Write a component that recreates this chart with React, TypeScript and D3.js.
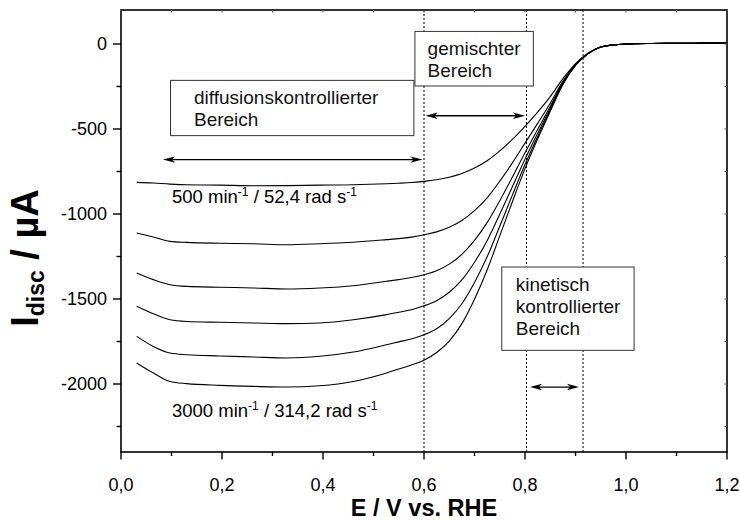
import React from "react";
import * as d3 from "d3";

// ---- data ----
const potentials = [0.031, 0.064, 0.097, 0.13, 0.196, 0.262, 0.328, 0.394, 0.46, 0.526, 0.55, 0.575, 0.6, 0.625, 0.65, 0.675, 0.7, 0.725, 0.75, 0.775, 0.8, 0.825, 0.85, 0.875, 0.9, 0.925, 0.95, 0.975, 1.0, 1.05, 1.1, 1.15, 1.2];
const rpm500 = [-814, -818, -824, -828, -830, -834, -833, -830, -828, -822, -819, -815, -808, -799, -784, -762, -730, -687, -629, -561, -484, -401, -310, -204, -115, -54, -18, -5, 0, 3, 4, 5, 5];
const rpm1000 = [-1112, -1135, -1161, -1167, -1172, -1175, -1181, -1175, -1166, -1151, -1145, -1136, -1122, -1105, -1078, -1038, -980, -905, -807, -699, -583, -467, -348, -220, -120, -55, -18, -5, 0, 3, 4, 5, 5];
const rpm1500 = [-1347, -1386, -1416, -1426, -1431, -1435, -1441, -1435, -1422, -1396, -1386, -1374, -1357, -1334, -1295, -1237, -1155, -1051, -922, -783, -640, -503, -367, -227, -123, -55, -18, -5, 0, 3, 4, 5, 5];
const rpm2000 = [-1543, -1587, -1622, -1632, -1637, -1641, -1645, -1641, -1622, -1592, -1578, -1563, -1540, -1510, -1460, -1388, -1284, -1157, -1002, -840, -678, -526, -379, -232, -124, -56, -18, -5, 0, 3, 4, 5, 5];
const rpm2500 = [-1720, -1779, -1818, -1828, -1835, -1841, -1847, -1837, -1812, -1769, -1752, -1735, -1710, -1675, -1615, -1528, -1403, -1252, -1072, -889, -709, -545, -389, -236, -125, -56, -18, -5, 0, 3, 4, 5, 5];
const rpm3000 = [-1876, -1935, -1985, -1998, -2008, -2014, -2018, -2010, -1985, -1935, -1912, -1888, -1860, -1815, -1748, -1645, -1501, -1329, -1129, -928, -733, -559, -396, -238, -126, -56, -18, -5, 0, 3, 4, 5, 5];
const seriesList = [rpm500, rpm1000, rpm1500, rpm2000, rpm2500, rpm3000];

const xTicks = [0, 0.2, 0.4, 0.6, 0.8, 1.0, 1.2];
const xTickLabels = ["0,0", "0,2", "0,4", "0,6", "0,8", "1,0", "1,2"];
const xMinor = [0.1, 0.3, 0.5, 0.7, 0.9, 1.1];
const yTicks = [0, -500, -1000, -1500, -2000];
const yMinor = [-250, -750, -1250, -1750, -2250];

const dividers = [0.6, 0.803, 0.915];

// annotation boxes in data units, with text lines and text inset (px)
const boxDiffusion = { x0: 0.098, x1: 0.58, yTop: -214, yBot: -539, inset: 23.5, lines: ["diffusionskontrollierter", "Bereich"] };
const boxMixed = { x0: 0.582, x1: 0.8165, yTop: 74, yBot: -247, inset: 12.7, lines: ["gemischter", "Bereich"] };
const boxKinetic = { x0: 0.754, x1: 1.016, yTop: -1312, yBot: -1802, inset: 14, lines: ["kinetisch", "kontrollierter", "Bereich"] };
const boxes = [boxDiffusion, boxMixed, boxKinetic];

const arrows = [
  { x0: 0.083, x1: 0.597, y: -680 },
  { x0: 0.603, x1: 0.8, y: -422 },
  { x0: 0.81, x1: 0.907, y: -2018 },
];

const W = 740, H = 521;
const M = { left: 121, right: 727, top: 10, bottom: 452 };
const FONT = "'Liberation Sans', Arial, Helvetica, sans-serif";

export default function App() {
  const x = d3.scaleLinear().domain([0, 1.2]).range([M.left, M.right]);
  const y = d3.scaleLinear().domain([-2400, 200]).range([M.bottom, M.top]);
  const line = d3
    .line<number>()
    .x((_, i) => x(potentials[i]))
    .y((d) => y(d))
    .curve(d3.curveMonotoneX);

  const arrowHead = (tipX: number, tipY: number, dir: number) => {
    const L = 12, h = 3.2;
    return `M${tipX},${tipY} L${tipX - dir * L},${tipY - h} L${tipX - dir * (L - 3)},${tipY} L${tipX - dir * L},${tipY + h} Z`;
  };

  return (
    <svg width={W} height={H} style={{ position: "absolute", left: 0, top: 0, background: "#fff" }} fontFamily={FONT}>
      <rect x={0} y={0} width={W} height={H} fill="#fff" />
      {/* divider dotted lines */}
      {dividers.map((d, i) => (
        <line key={"dv" + i} x1={x(d)} x2={x(d)} y1={M.top} y2={M.bottom} stroke="#000" strokeWidth={1} strokeDasharray="2,2" />
      ))}
      {/* curves */}
      {seriesList.map((s, i) => (
        <path key={"c" + i} d={line(s) || ""} fill="none" stroke="#000" strokeWidth={1.1} />
      ))}
      {/* frame */}
      <rect x={M.left} y={M.top} width={M.right - M.left} height={M.bottom - M.top} fill="none" stroke="#000" strokeWidth={1.6} />
      {/* bottom ticks */}
      {xTicks.map((t, i) => (
        <g key={"xt" + i}>
          <line x1={x(t)} x2={x(t)} y1={M.bottom} y2={M.bottom + 7.5} stroke="#000" strokeWidth={1.4} />
          <text x={x(t)} y={490.5} textAnchor="middle" fontSize={18}>{xTickLabels[i]}</text>
        </g>
      ))}
      {xMinor.map((t, i) => (
        <line key={"xm" + i} x1={x(t)} x2={x(t)} y1={M.bottom} y2={M.bottom + 4} stroke="#000" strokeWidth={1.4} />
      ))}
      {/* top inward ticks */}
      {[...xTicks, ...xMinor].map((t, i) => (
        <line key={"xtt" + i} x1={x(t)} x2={x(t)} y1={M.top} y2={M.top + 2.5} stroke="#555" strokeWidth={1} />
      ))}
      {/* left ticks */}
      {yTicks.map((t, i) => (
        <g key={"yt" + i}>
          <line x1={M.left - 8} x2={M.left} y1={y(t)} y2={y(t)} stroke="#000" strokeWidth={1.4} />
          <text x={107} y={y(t)} dy="0.36em" textAnchor="end" fontSize={18}>{String(t)}</text>
        </g>
      ))}
      {yMinor.map((t, i) => (
        <line key={"ym" + i} x1={M.left - 4.5} x2={M.left} y1={y(t)} y2={y(t)} stroke="#000" strokeWidth={1.4} />
      ))}
      {/* right inward ticks */}
      {[...yTicks, ...yMinor].map((t, i) => (
        <line key={"yr" + i} x1={M.right - 2.5} x2={M.right} y1={y(t)} y2={y(t)} stroke="#555" strokeWidth={1} />
      ))}
      {/* axis titles */}
      <text x={(M.left + M.right) / 2} y={516} textAnchor="middle" fontSize={23.5} fontWeight="bold">E / V vs. RHE</text>
      <text transform={`translate(38,258) rotate(-90)`} textAnchor="middle" fontSize={38} fontWeight="bold">
        I<tspan fontSize={23} dy={6}>disc</tspan><tspan dy={-6}> / µA</tspan>
      </text>
      {/* annotation boxes */}
      {boxes.map((b, i) => (
        <g key={"b" + i}>
          <rect x={x(b.x0)} y={y(b.yTop)} width={x(b.x1) - x(b.x0)} height={y(b.yBot) - y(b.yTop)} fill="#fff" stroke="#333" strokeWidth={1} />
          {b.lines.map((l, j) => (
            <text key={j} x={x(b.x0) + b.inset} y={y(b.yTop) + 24 + j * 22} fontSize={19} fill="#111">{l}</text>
          ))}
        </g>
      ))}
      {/* arrows */}
      {arrows.map((a, i) => (
        <g key={"a" + i}>
          <line x1={x(a.x0) + 6} x2={x(a.x1) - 6} y1={y(a.y)} y2={y(a.y)} stroke="#000" strokeWidth={1.3} />
          <path d={arrowHead(x(a.x1), y(a.y), 1)} fill="#000" />
          <path d={arrowHead(x(a.x0), y(a.y), -1)} fill="#000" />
        </g>
      ))}
      {/* rotation labels */}
      <text x={172} y={203} fontSize={18.5}>
        500 min<tspan fontSize={12} dy={-7}>-1</tspan><tspan dy={7}> / 52,4 rad s</tspan><tspan fontSize={12} dy={-7}>-1</tspan>
      </text>
      <text x={172} y={417} fontSize={18.5}>
        3000 min<tspan fontSize={12} dy={-7}>-1</tspan><tspan dy={7}> / 314,2 rad s</tspan><tspan fontSize={12} dy={-7}>-1</tspan>
      </text>
    </svg>
  );
}
